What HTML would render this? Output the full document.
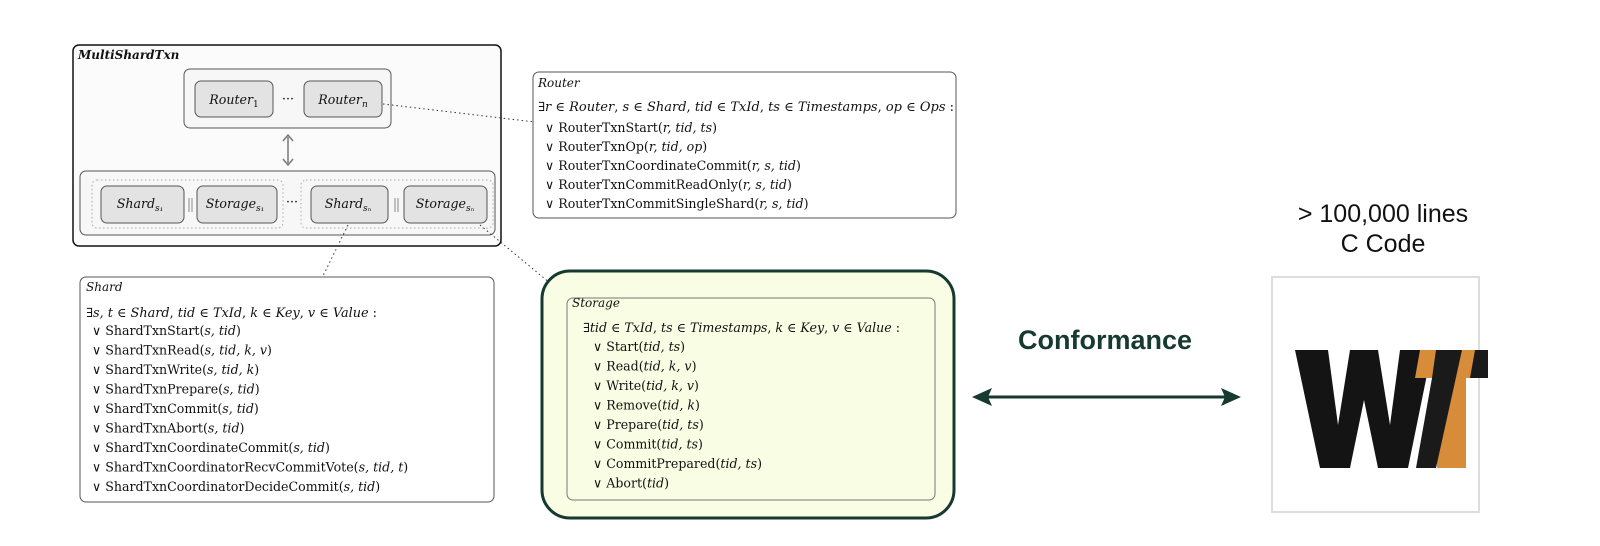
<!DOCTYPE html>
<html><head><meta charset="utf-8"><style>
html,body{margin:0;padding:0;background:#fff;}
svg{display:block}
.t{font-family:"DejaVu Serif","Liberation Serif",serif;font-size:12.6px;fill:#111}
.i{font-style:italic}
.h{font-family:"DejaVu Serif","Liberation Serif",serif;font-style:italic;font-size:12px;fill:#111}
</style></head><body>
<svg width="1600" height="546" viewBox="0 0 1600 546" xmlns="http://www.w3.org/2000/svg">
<!-- MultiShardTxn -->
<rect x="73" y="45" width="428" height="201" rx="6" fill="#fbfbfb" stroke="#111" stroke-width="1.5"/>
<text x="78" y="59" class="h" font-weight="bold">MultiShardTxn</text>
<rect x="184" y="69" width="207" height="59" rx="6" fill="#f7f7f7" stroke="#555"/>
<rect x="195" y="81" width="78" height="36" rx="6" fill="#e3e3e3" stroke="#555"/>
<text x="234" y="104" class="t i" text-anchor="middle" font-size="13.5">Router<tspan font-size="9" dy="3" font-style="normal">1</tspan></text>
<text x="288" y="103" class="t" text-anchor="middle">···</text>
<rect x="304" y="81" width="78" height="36" rx="6" fill="#e3e3e3" stroke="#555"/>
<text x="343" y="104" class="t i" text-anchor="middle" font-size="13.5">Router<tspan font-size="9" dy="3">n</tspan></text>
<!-- double arrow -->
<line x1="288" y1="137" x2="288" y2="163" stroke="#777" stroke-width="1.5"/>
<polyline points="283,141 288,135 293,141" fill="none" stroke="#777" stroke-width="1.5"/>
<polyline points="283,159 288,165 293,159" fill="none" stroke="#777" stroke-width="1.5"/>
<rect x="80" y="171" width="415" height="64" rx="6" fill="#f7f7f7" stroke="#555"/>
<rect x="92" y="180" width="191" height="48" rx="5" fill="none" stroke="#aaa" stroke-dasharray="1.5,2.5"/>
<rect x="301" y="180" width="192" height="48" rx="5" fill="none" stroke="#aaa" stroke-dasharray="1.5,2.5"/>
<rect x="101" y="186" width="83" height="37" rx="6" fill="#e3e3e3" stroke="#555"/>
<text x="140" y="208" class="t i" text-anchor="middle" font-size="13.5">Shard<tspan font-size="9" dy="3">s₁</tspan></text>
<line x1="189" y1="198" x2="189" y2="212" stroke="#888"/><line x1="192" y1="198" x2="192" y2="212" stroke="#888"/>
<rect x="197" y="186" width="80" height="37" rx="6" fill="#e3e3e3" stroke="#555"/>
<text x="235" y="208" class="t i" text-anchor="middle" font-size="13.5">Storage<tspan font-size="9" dy="3">s₁</tspan></text>
<text x="292" y="206" class="t" text-anchor="middle">···</text>
<rect x="311" y="186" width="77" height="37" rx="6" fill="#e3e3e3" stroke="#555"/>
<text x="348" y="208" class="t i" text-anchor="middle" font-size="13.5">Shard<tspan font-size="9" dy="3">sₙ</tspan></text>
<line x1="395" y1="198" x2="395" y2="212" stroke="#888"/><line x1="398" y1="198" x2="398" y2="212" stroke="#888"/>
<rect x="404" y="186" width="83" height="37" rx="6" fill="#e3e3e3" stroke="#555"/>
<text x="445" y="208" class="t i" text-anchor="middle" font-size="13">Storage<tspan font-size="9" dy="3">sₙ</tspan></text>
<!-- dotted connectors -->
<line x1="383" y1="104" x2="535" y2="122" stroke="#333" stroke-dasharray="1.5,3"/>
<line x1="348" y1="225" x2="322" y2="278" stroke="#333" stroke-dasharray="1.5,3"/>
<line x1="480" y1="225" x2="568" y2="298" stroke="#333" stroke-dasharray="1.5,3"/>
<!-- Router box -->
<rect x="533" y="72" width="423" height="146" rx="6" fill="#fff" stroke="#555"/>
<text x="538" y="87" class="h">Router</text>
<text x="538" y="111" class="t" textLength="416" lengthAdjust="spacingAndGlyphs"><tspan>∃</tspan><tspan class="i">r</tspan> ∈ <tspan class="i">Router</tspan>, <tspan class="i">s</tspan> ∈ <tspan class="i">Shard</tspan>, <tspan class="i">tid</tspan> ∈ <tspan class="i">TxId</tspan>, <tspan class="i">ts</tspan> ∈ <tspan class="i">Timestamps</tspan>, <tspan class="i">op</tspan> ∈ <tspan class="i">Ops</tspan> :</text>
<text x="545" y="132" class="t">∨ RouterTxnStart(<tspan class="i">r, tid, ts</tspan>)</text>
<text x="545" y="151" class="t">∨ RouterTxnOp(<tspan class="i">r, tid, op</tspan>)</text>
<text x="545" y="170" class="t">∨ RouterTxnCoordinateCommit(<tspan class="i">r, s, tid</tspan>)</text>
<text x="545" y="189" class="t">∨ RouterTxnCommitReadOnly(<tspan class="i">r, s, tid</tspan>)</text>
<text x="545" y="208" class="t">∨ RouterTxnCommitSingleShard(<tspan class="i">r, s, tid</tspan>)</text>
<!-- Shard box -->
<rect x="80" y="277" width="414" height="225" rx="6" fill="#fff" stroke="#555"/>
<text x="86" y="291" class="h">Shard</text>
<text x="86" y="317" class="t" textLength="291" lengthAdjust="spacingAndGlyphs">∃<tspan class="i">s, t</tspan> ∈ <tspan class="i">Shard</tspan>, <tspan class="i">tid</tspan> ∈ <tspan class="i">TxId</tspan>, <tspan class="i">k</tspan> ∈ <tspan class="i">Key</tspan>, <tspan class="i">v</tspan> ∈ <tspan class="i">Value</tspan> :</text>
<text x="92" y="335" class="t">∨ ShardTxnStart(<tspan class="i">s, tid</tspan>)</text>
<text x="92" y="354.5" class="t">∨ ShardTxnRead(<tspan class="i">s, tid, k, v</tspan>)</text>
<text x="92" y="374" class="t">∨ ShardTxnWrite(<tspan class="i">s, tid, k</tspan>)</text>
<text x="92" y="393.5" class="t">∨ ShardTxnPrepare(<tspan class="i">s, tid</tspan>)</text>
<text x="92" y="413" class="t">∨ ShardTxnCommit(<tspan class="i">s, tid</tspan>)</text>
<text x="92" y="432.5" class="t">∨ ShardTxnAbort(<tspan class="i">s, tid</tspan>)</text>
<text x="92" y="452" class="t">∨ ShardTxnCoordinateCommit(<tspan class="i">s, tid</tspan>)</text>
<text x="92" y="471.5" class="t">∨ ShardTxnCoordinatorRecvCommitVote(<tspan class="i">s, tid, t</tspan>)</text>
<text x="92" y="491" class="t">∨ ShardTxnCoordinatorDecideCommit(<tspan class="i">s, tid</tspan>)</text>
<!-- Storage box -->
<rect x="542" y="271" width="412" height="247" rx="28" fill="#f9fde3" stroke="#163a30" stroke-width="3"/>
<rect x="567" y="298" width="368" height="202" rx="6" fill="none" stroke="#777"/>
<text x="572" y="307" class="h">Storage</text>
<text x="583" y="332" class="t" textLength="317" lengthAdjust="spacingAndGlyphs">∃<tspan class="i">tid</tspan> ∈ <tspan class="i">TxId</tspan>, <tspan class="i">ts</tspan> ∈ <tspan class="i">Timestamps</tspan>, <tspan class="i">k</tspan> ∈ <tspan class="i">Key</tspan>, <tspan class="i">v</tspan> ∈ <tspan class="i">Value</tspan> :</text>
<text x="593" y="351" class="t">∨ Start(<tspan class="i">tid, ts</tspan>)</text>
<text x="593" y="370.5" class="t">∨ Read(<tspan class="i">tid, k, v</tspan>)</text>
<text x="593" y="390" class="t">∨ Write(<tspan class="i">tid, k, v</tspan>)</text>
<text x="593" y="409.5" class="t">∨ Remove(<tspan class="i">tid, k</tspan>)</text>
<text x="593" y="429" class="t">∨ Prepare(<tspan class="i">tid, ts</tspan>)</text>
<text x="593" y="448.5" class="t">∨ Commit(<tspan class="i">tid, ts</tspan>)</text>
<text x="593" y="468" class="t">∨ CommitPrepared(<tspan class="i">tid, ts</tspan>)</text>
<text x="593" y="487.5" class="t">∨ Abort(<tspan class="i">tid</tspan>)</text>
<!-- Conformance -->
<text x="1105" y="349" font-family="Liberation Sans,sans-serif" font-weight="bold" font-size="27" fill="#163a30" text-anchor="middle">Conformance</text>
<line x1="985" y1="397" x2="1228" y2="397" stroke="#163a30" stroke-width="3"/>
<polygon points="972,397 992,388 988,397 992,406" fill="#163a30"/>
<polygon points="1241,397 1221,388 1225,397 1221,406" fill="#163a30"/>
<!-- lines -->
<text x="1383" y="222" font-family="Liberation Sans,sans-serif" font-size="25" fill="#111" text-anchor="middle">&gt; 100,000 lines</text>
<text x="1383" y="252" font-family="Liberation Sans,sans-serif" font-size="25" fill="#111" text-anchor="middle">C Code</text>
<rect x="1272" y="277" width="207" height="235" fill="#fff" stroke="#ddd" stroke-width="2"/>
<!-- WT logo -->
<polygon points="1295,350 1328,350 1338,425 1350,350 1378,350 1390,425 1400,350 1432,350 1408,468 1378,468 1364,400 1350,468 1320,468" fill="#141414"/>
<polygon points="1420,350 1488,350 1488,378 1466,378 1466,468 1437,468 1437,378 1415,378" fill="#d68c38"/>
<polygon points="1436,350 1462,350 1436,468 1416,468 1432,378" fill="#1a1a1a"/>
<polygon points="1475,350 1488,350 1488,378 1470,378" fill="#1a1a1a"/>
</svg>
</body></html>
